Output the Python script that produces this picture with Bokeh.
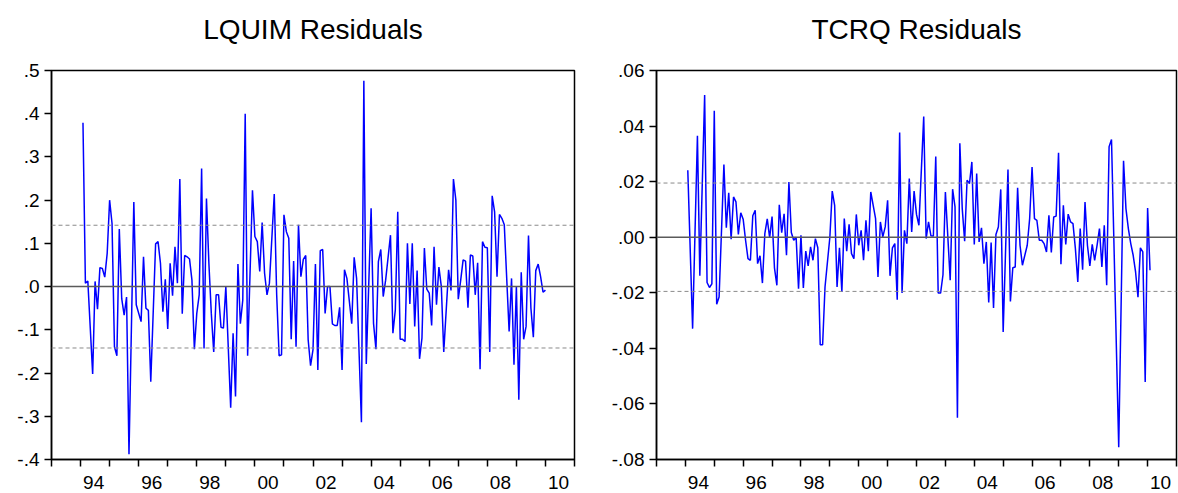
from bokeh.plotting import figure
from bokeh.layouts import row
from bokeh.models import FixedTicker, CustomJSTickFormatter, Span, Range1d, LinearAxis
from bokeh.embed import file_html
from bokeh.resources import INLINE

# ---------------- data ----------------
START_YEAR = 1994
START_MONTH = 2  # first observation: 1994M02

# LQUIM residuals: observation index (months after start) and value
lq_obs = [0, 1, 2, 4, 5, 6, 7, 8, 9, 10, 11, 12, 13, 14, 15, 16, 17, 18, 19, 21,
          22, 24, 25, 26, 27, 28, 30, 31, 32, 33, 34, 35, 36, 37, 38, 39, 40, 41, 42, 43,
          44, 45, 46, 47, 48, 49, 50, 51, 52, 53, 54, 55, 56, 57, 58, 59, 61, 62, 63, 64,
          65,
          66, 67, 68, 70, 71, 72, 73, 74, 75, 76, 77, 79, 80, 81, 82, 83, 84, 85, 86, 87,
          88, 89, 90, 91, 92, 93, 94, 95, 96, 97, 98, 99, 100, 101, 102, 103, 104, 105, 106, 107,
          108, 109, 111, 112, 113, 115, 116, 117, 119, 120, 121, 122, 123, 124, 125, 127, 128, 129, 130, 131,
          132, 133, 134, 135, 136, 137, 138, 139, 140, 141, 142, 143, 144,
          145, 146, 147, 148, 149, 151, 152, 153, 154, 155, 156, 157, 158, 159, 160, 161, 162, 163, 164, 165,
          166, 167, 168, 169, 170, 171, 172, 173, 174, 176, 177, 178, 179, 180, 181, 182, 183, 184, 185, 186,
          187, 188, 189, 190, 191]
lq_resid = [.379, .008, .013, -.202, .012, -.052, .044, .042, .022, .077,
            .200, .146, -.139, -.160, .133, -.028, -.066, -.024, -.388, .196,
            -.042, -.081, .069, -.050, -.055, -.220, .099, .104, .054, -.058,
            .017, -.098, .054, -.021, .092, .008, .249, -.063, .072, .069,
            .064, .015, -.145, -.062, -.019, .273, -.143, .204, .054, -.062,
            -.151, -.019, -.019, -.094, -.096, .000, -.280, -.108, -.254, .052,
            -.086,
            -.031, .400, -.160, .223, .116, .104, .035, .148, .031, -.019,
            .008, .214, -.019, -.160, -.158, .166, .127, .112, -.122, .059,
            -.139, .143, .023, .063, .072, -.123, -.183, -.146, .052, -.193,
            .083, .086, -.062, .000, .000, -.086, -.090, -.090, -.048, -.193,
            .039, .019, -.086, .068, .019, -.314, .476, -.179, .181, -.085,
            -.145, .058, .086, -.023, .015, .119, -.108, -.054, .173, -.122,
            -.122, -.127, .100, -.040, .100, -.092, .037, -.167, -.119, .089,
            -.006, -.015, -.090,
            .092, -.042, .045, .000, -.151, .039, -.009, .249, .200, -.029,
            .015, .062, .059, -.049, .073, .071, -.019, .055, -.191, .104,
            .091, .090, -.151, .210, .173, .023, .167, .158, .143, -.104,
            .019, -.181, .000, -.262, .033, -.122, -.092, .118, -.050, -.117,
            .037, .052, .023, -.013, -.008]
lq_band = 0.142

# TCRQ residuals
tc_obs = [0, 2, 4, 5, 7, 8, 9, 10, 11, 12, 13, 15, 16, 17, 18, 19, 20, 21, 22, 23,
          24, 25, 26, 27, 28, 29, 30, 31, 32, 33, 34, 35, 36, 37, 38, 39, 40, 41, 42, 43,
          44, 45, 46, 47, 48, 49, 50, 51, 52, 53, 54, 55, 56, 57, 59, 60, 61, 62,
          63, 64, 65, 66, 67, 68, 69, 70, 71, 72, 73, 74, 75, 76, 78, 79, 80, 81, 82, 83,
          84, 85, 86, 87, 88, 89, 90, 91, 92, 93, 94, 95, 96, 98, 99, 100, 101, 102, 103, 104,
          105, 106, 107, 109, 110, 111, 112, 113, 114, 115, 116, 117, 118, 119, 120, 121, 122, 123, 124, 125,
          126, 127, 128, 129, 130, 131, 133, 134, 135, 136, 137, 138, 139, 141, 142,
          143, 144, 145, 146, 147, 148, 149, 150, 151, 152, 153, 154, 155, 156, 157, 158, 159, 160, 161, 162,
          163, 164, 165, 166, 167, 168, 169, 170, 171, 172, 173, 174, 175, 176,
          179, 181, 182, 183, 184, 185, 186, 187, 188, 189, 190, 191, 192]
tc_resid = [.0241, -.0329, .0365, -.0139, .0512, -.0163, -.0181, -.0168, .0455, -.0241,
            -.0215, .0262, .0034, .0160, -.0007, .0145, .0127, .0010, .0088, .0065,
            -.0011, -.0077, -.0083, .0077, .0097, -.0095, -.0067, -.0165, .0013, .0066,
            -.0002, .0074, -.0110, -.0173, .0117, .0016, .0084, -.0065, .0199, .0017,
            -.0011, .0000, -.0185, .0007, -.0183, -.0050, -.0103, -.0035, -.0083, -.0005,
            -.0038, -.0387, -.0387, -.0179, -.0001, .0166, .0115, -.0179,
            -.0038, -.0197, .0067, -.0050, .0046, -.0059, -.0077, .0082, -.0029, .0025,
            -.0083, .0061, -.0050, .0163, .0067, -.0143, .0055, .0001, .0037, .0133,
            -.0139, -.0038, -.0023, -.0225, .0377, -.0201, .0025, -.0023, .0211, .0019,
            .0166, .0082, .0043, .0434, -.0005, .0055, .0005, .0004, .0290, -.0201,
            -.0201, -.0135, .0163, -.0155, .0173, .0109, -.0650, .0338, .0103, -.0014,
            .0205, .0193, .0271, -.0026, .0229, -.0017, .0034, -.0095, -.0017, -.0235,
            -.0019, -.0255, .0010, .0037, .0172, -.0341, .0244, -.0231, -.0110, -.0107,
            .0178, -.0029, -.0101, -.0029, .0067,
            .0253, .0067, .0061, -.0011, -.0011, -.0023, -.0053, .0079, -.0055, .0073,
            .0076, .0304, -.0097, .0115, -.0026, .0083, .0055, .0049, -.0041, -.0161,
            .0031, -.0117, .0127, -.0029, -.0103, -.0026, -.0083, -.0029, .0031, -.0107,
            .0043, -.0173, .0326, .0352,
            -.0756, .0275, .0103, .0031, -.0023, -.0065, -.0125, -.0216, -.0038, -.0053,
            -.0521, .0105, -.0119]
tc_band = 0.0195

assert len(lq_obs) == len(lq_resid)
assert len(tc_obs) == len(tc_resid)

# axis ticks and labels
year_ticks = list(range(1993, 2012))
x_label_years = [1994, 1996, 1998, 2000, 2002, 2004, 2006, 2008, 2010]
x_labels = ["94", "96", "98", "00", "02", "04", "06", "08", "10"]
lq_yticks = [-0.4, -0.3, -0.2, -0.1, 0.0, 0.1, 0.2, 0.3, 0.4, 0.5]
lq_ylabels = ["-.4", "-.3", "-.2", "-.1", ".0", ".1", ".2", ".3", ".4", ".5"]
tc_yticks = [-0.08, -0.06, -0.04, -0.02, 0.0, 0.02, 0.04, 0.06]
tc_ylabels = ["-.08", "-.06", "-.04", "-.02", ".00", ".02", ".04", ".06"]

FONT = "Liberation Sans"
LABEL_OFFSET = 0.45
TITLE_GAP = 20  # empty space between the title and the frame


def to_years(obs):
    return [START_YEAR + (START_MONTH - 1 + m) / 12.0 for m in obs]


def make_panel(title, obs, resid, band, yticks, ylabels, width, bl, br):
    p = figure(width=width, height=493, output_backend="svg", toolbar_location=None,
               title=title,
               x_range=Range1d(1993, 2011), y_range=Range1d(yticks[0], yticks[-1]),
               min_border_left=bl, min_border_right=br, min_border_top=70,
               min_border_bottom=34, background_fill_color="white",
               border_fill_color="white")
    p.title.align = "center"
    p.title.text_font = FONT
    p.title.text_font_size = "28px"
    p.title.text_font_style = "normal"
    p.title.text_color = "black"
    p.title.standoff = 12

    # invisible spacer axis between the frame and the title
    mid = (year_ticks[0] + year_ticks[-1]) / 2
    spacer = LinearAxis(ticker=FixedTicker(ticks=[mid], minor_ticks=[]),
                        formatter=CustomJSTickFormatter(code="return '';"),
                        major_tick_out=TITLE_GAP, major_tick_in=0, minor_tick_out=0,
                        minor_tick_in=0, major_label_standoff=0,
                        axis_line_color=None, major_tick_line_color=None,
                        minor_tick_line_color=None)
    p.add_layout(spacer, "above")

    p.grid.visible = False
    p.outline_line_color = "black"
    p.outline_line_width = 1.5

    # zero line and bands
    p.add_layout(Span(location=0, dimension="width", line_color="#5a5a5a", line_width=1.5))
    for b in (band, -band):
        p.add_layout(Span(location=b, dimension="width", line_color="#8a8a8a",
                          line_width=1, line_dash="4 3"))

    p.line(to_years(obs), resid, line_color="#0000ff", line_width=1.5)

    xa = p.below[0]
    xa.ticker = FixedTicker(ticks=[y + LABEL_OFFSET for y in x_label_years],
                            minor_ticks=year_ticks)
    xa.formatter = CustomJSTickFormatter(args=dict(labels=x_labels),
                                         code="return labels[index];")
    xa.major_tick_line_color = None
    xa.major_tick_out = 7
    xa.major_tick_in = 0
    xa.minor_tick_out = 7
    xa.minor_tick_in = 0
    xa.minor_tick_line_color = "black"
    xa.minor_tick_line_width = 1.5
    xa.axis_line_width = 1.5
    xa.major_label_standoff = 9
    xa.major_label_text_font = FONT
    xa.major_label_text_font_size = "19px"
    xa.major_label_text_color = "black"

    ya = p.left[0]
    ya.ticker = FixedTicker(ticks=yticks, minor_ticks=[])
    ya.formatter = CustomJSTickFormatter(args=dict(labels=ylabels),
                                         code="return labels[index];")
    ya.major_tick_out = 7
    ya.major_tick_in = 0
    ya.major_tick_line_width = 1.5
    ya.axis_line_width = 1.5
    ya.major_label_standoff = 5
    ya.major_label_text_font = FONT
    ya.major_label_text_font_size = "19px"
    ya.major_label_text_color = "black"
    return p


p1 = make_panel("LQUIM Residuals", lq_obs, lq_resid, lq_band, lq_yticks, lq_ylabels,
                608, 51, 34)
p2 = make_panel("TCRQ Residuals", tc_obs, tc_resid, tc_band, tc_yticks, tc_ylabels,
                570, 48, 2)

layout = row(p1, p2)
open("out.html", "w").write(file_html(layout, INLINE))
